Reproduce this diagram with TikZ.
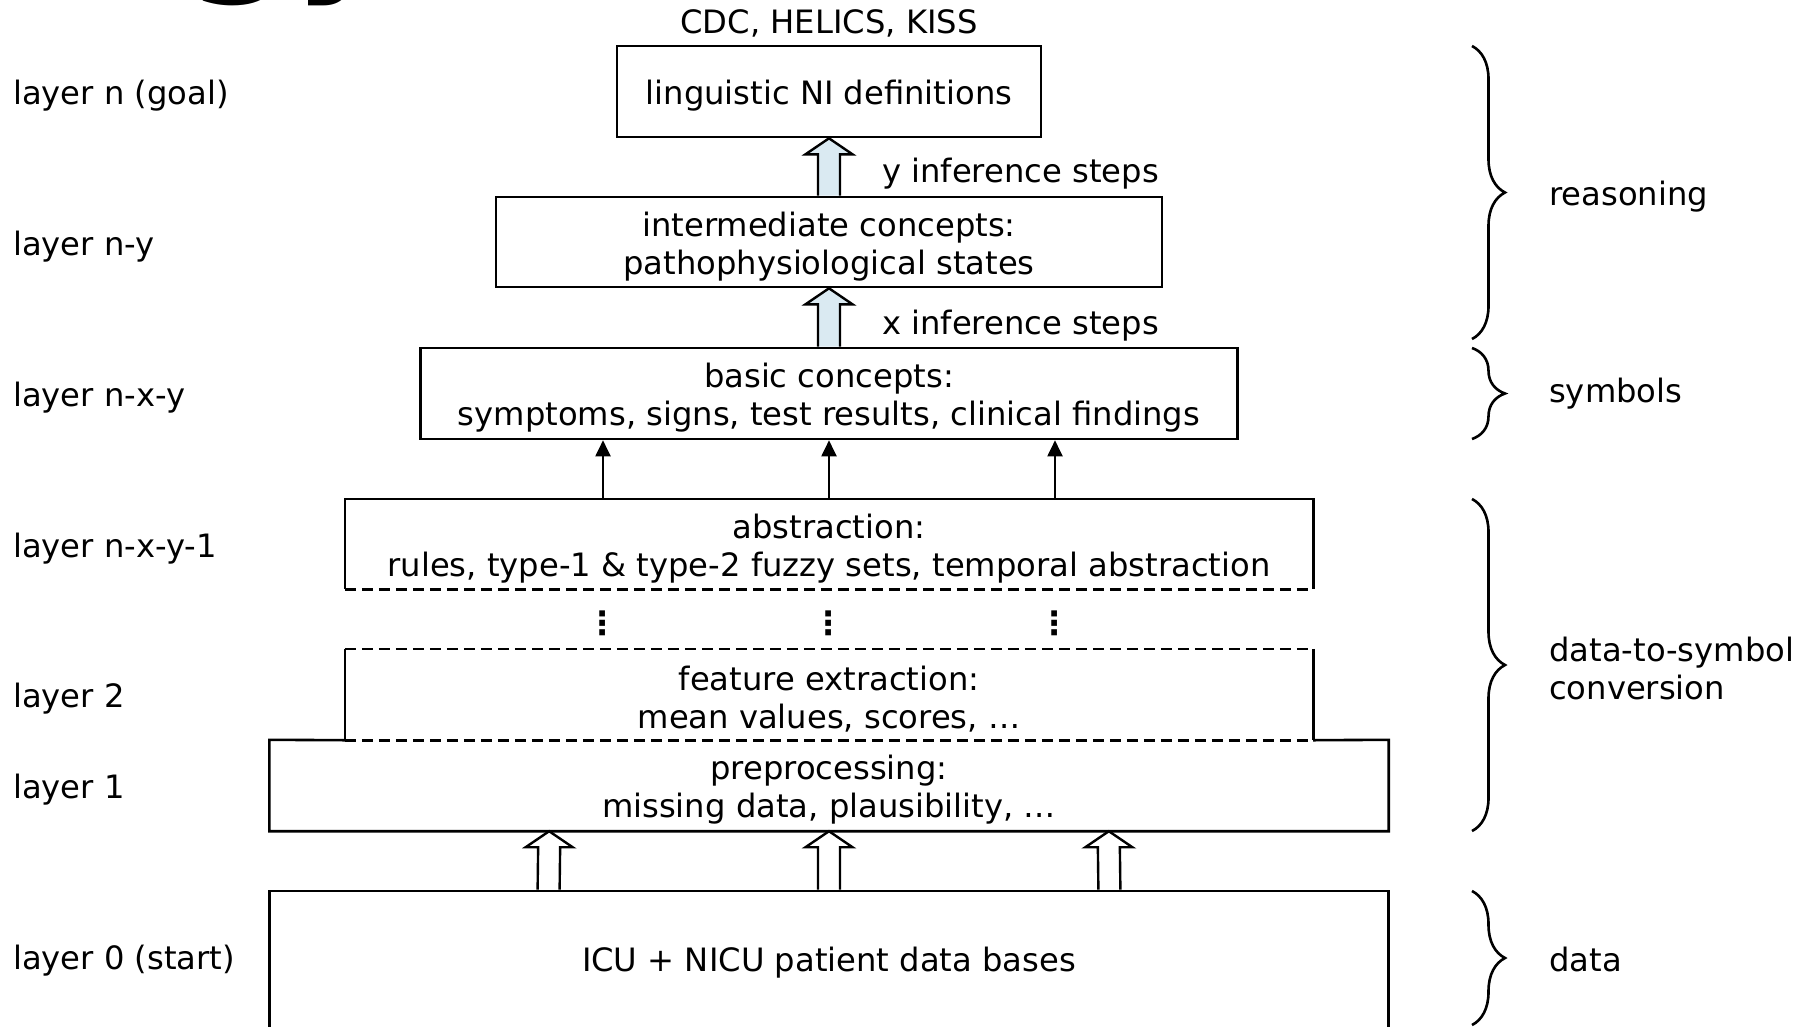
\documentclass[tikz,border=0pt]{standalone}
\usepackage{fontspec}
\setmainfont{DejaVu Sans}
\usetikzlibrary{calc,arrows.meta,decorations.pathreplacing}
\definecolor{arrowblue}{RGB}{218,234,242}
\newcommand\blockarrow[3]{%
  \filldraw[#1] ($(#2)+(-11,0)$) -- ($(#3)+(-11,16)$) -- ($(#3)+(-23.5,16)$) -- (#3)
    -- ($(#3)+(23.5,16)$) -- ($(#3)+(11,16)$) -- ($(#2)+(11,0)$);}
\begin{document}
\begin{tikzpicture}[x=1pt,y=-1pt,
  every node/.style={font=\fontsize{32.2}{38}\selectfont, inner sep=0pt},
  layerbox/.style={rectangle, minimum height=91pt},
  framed/.style={layerbox, draw, line width=2.6pt},
  boxtext/.style={align=center},
  lbl/.style={anchor=west},
  edge/.style={line width=2.6pt},
  dashedge/.style={line width=2.6pt, dash pattern=on 11pt off 6pt},
  thinarrow/.style={line width=2pt, -{Triangle[length=16pt,width=15pt]}},
  bracestyle/.style={decorate, decoration={brace, amplitude=33pt}, line width=2.6pt},
  blockblue/.style={fill=arrowblue, draw=black, line width=2.4pt},
  blockwhite/.style={fill=white, draw=black, line width=2.4pt},
]
\useasboundingbox (0,0) rectangle (1815,1026);
\clip (0,0) rectangle (1815,1026);

% title fragment (cut off at the top)
\node[anchor=base west, font=\fontsize{150}{150}\selectfont\bfseries] (title) at (186,-27) {gy};

% boxes
\node[framed, minimum width=424pt] (b1) at (829,91.5) {};
\node[framed, minimum width=666pt, minimum height=90pt] (b2) at (829,242) {};
\node[framed, minimum width=817pt] (b3) at (829,393.5) {};
\node[layerbox, minimum width=968pt, minimum height=90pt] (b4) at (829,544) {};
\node[layerbox, minimum width=968pt] (b5) at (829,694.5) {};
\node[layerbox, minimum width=1119pt] (b6) at (829,785.5) {};
\node[framed, minimum width=1119pt, minimum height=140pt] (b7) at (829,961) {};

% box texts
\node (cdc) at (829,23) {CDC, HELICS, KISS};
\node[boxtext] (b1t) at ($(b1)+(0,4.5)$) {linguistic NI definitions};
\node[boxtext] (b2t) at ($(b2)+(0,4.5)$) {intermediate concepts:\\pathophysiological states};
\node[boxtext] (b3t) at ($(b3)+(0,4.5)$) {basic concepts:\\symptoms, signs, test results, clinical findings};
\node[boxtext] (b4t) at ($(b4)+(0,4.5)$) {abstraction:\\rules, type-1 \& type-2 fuzzy sets, temporal abstraction};
\node[boxtext] (b5t) at ($(b5)+(0,4.5)$) {feature extraction:\\mean values, scores, …};
\node[boxtext] (b6t) at ($(b6)+(0,4.5)$) {preprocessing:\\missing data, plausibility, …};
\node[boxtext] (b7t) at ($(b7)+(0,2)$) {ICU + NICU patient data bases};

% partial borders
\draw[edge] (b4.south west) -- (b4.north west) -- (b4.north east) -- (b4.south east);
\draw[dashedge] (b4.south west) -- (b4.south east);
\draw[edge] (b5.north west) -- (b5.south west) (b5.north east) -- (b5.south east);
\draw[dashedge] (b5.north west) -- (b5.north east) (b5.south west) -- (b5.south east);
\draw[edge] (b5.south west) -- (b6.north west) -- (b6.south west) -- (b6.south east) -- (b6.north east) -- (b5.south east);

% thin arrows and dots
\foreach \dx/\n in {-226/a,0/b,226/c} {
  \draw[thinarrow] ($(b4.north)+(\dx,0)$) -- ($(b3.south)+(\dx,0)$);
  \node[font=\fontsize{32.2}{38}\selectfont\bfseries] (dot\n) at ($(b4.south)+(\dx,34)$) {⋮};
}

% block arrows
\blockarrow{blockblue}{b2.north}{b1.south}
\blockarrow{blockblue}{b3.north}{b2.south}
\foreach \f/\n in {0.25/a,0.5/b,0.75/c} {
  \coordinate (s\n) at ($(b7.north west)!\f!(b7.north east)$);
  \coordinate (t\n) at ($(b6.south west)!\f!(b6.south east)$);
  \blockarrow{blockwhite}{s\n}{t\n}
}

\node[lbl] (ysteps) at (882,174) {y inference steps};
\node[lbl] (xsteps) at (882,326) {x inference steps};

% layer labels
\node[lbl] (ln)   at (13,96)  {layer n (goal)};
\node[lbl] (lny)  at (13,247)   {layer n-y};
\node[lbl] (lnxy) at (13,398) {layer n-x-y};
\node[lbl] (lnxy1) at (13,549)  {layer n-x-y-1};
\node[lbl] (l2)   at (13,699) {layer 2};
\node[lbl] (l1)   at (13,790) {layer 1};
\node[lbl] (l0)   at (13,961)   {layer 0 (start)};

% braces
\draw[bracestyle] (1472,46) -- (1472,339);
\draw[bracestyle] (1472,348) -- (1472,439);
\draw[bracestyle] (1472,499) -- (1472,831);
\draw[bracestyle] (1472,891) -- (1472,1025);

\node[lbl] (reas) at (1549,197) {reasoning};
\node[lbl] (sym)  at (1549,394) {symbols};
\node[lbl, align=left] (d2s) at (1549,668) {data-to-symbol\\conversion};
\node[lbl] (dat)  at (1549,959) {data};
\end{tikzpicture}
\end{document}
